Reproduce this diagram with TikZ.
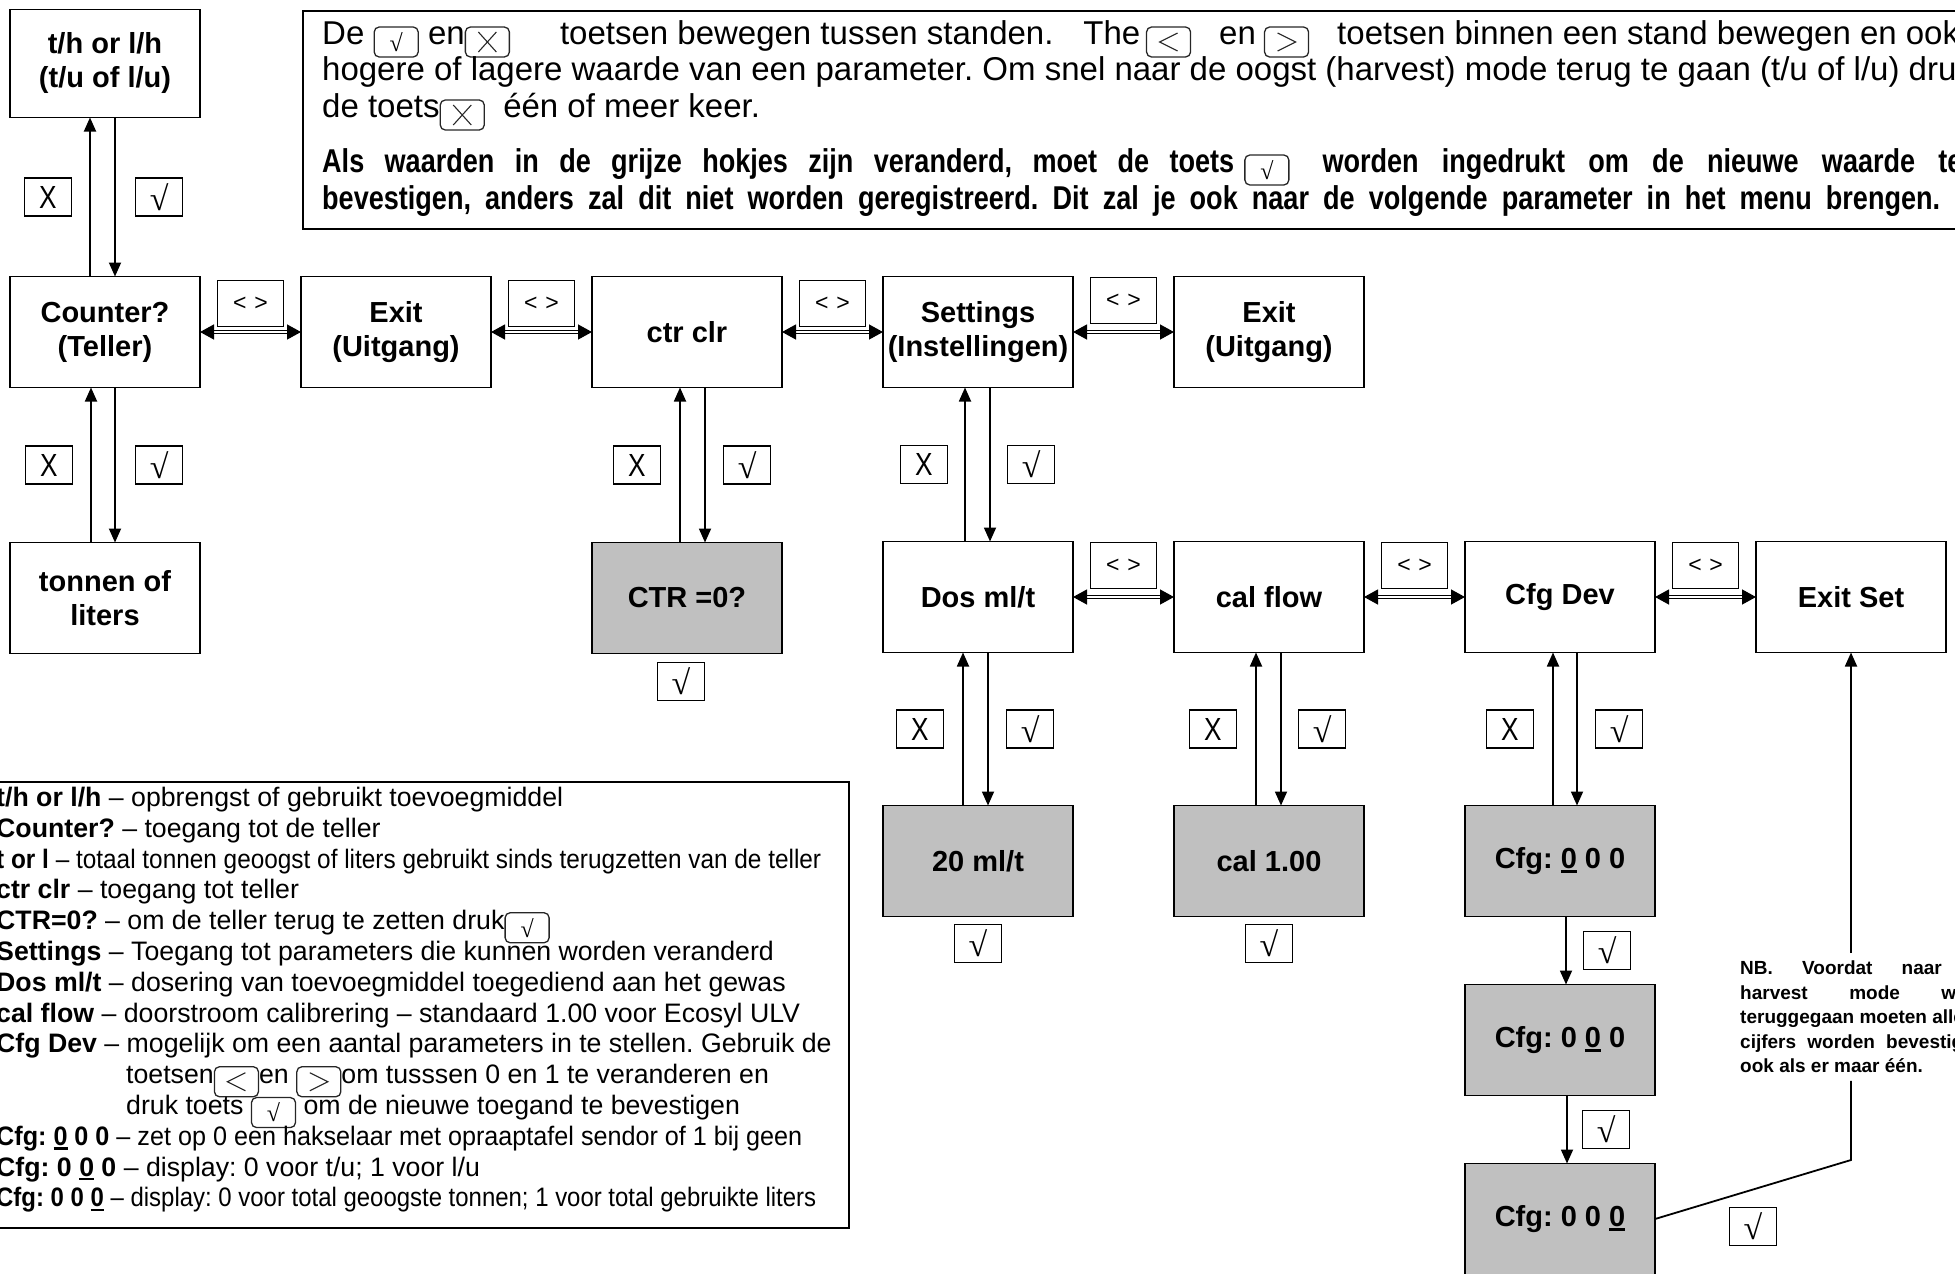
\documentclass[tikz,border=0pt]{standalone}
\usepackage{fontspec}
\usepackage{graphicx}
\setmainfont{Liberation Sans}
\newfontfamily\symfont{Liberation Serif}
\newfontfamily\narrowsans[FakeStretch=0.82]{Liberation Sans}
\usetikzlibrary{arrows.meta,positioning}
\definecolor{cellgray}{RGB}{192,192,192}
\AtBeginDocument{\frenchspacing}

\tikzset{
  keycap/.style={draw=black!85,line width=1.3pt,rounded corners=5pt,minimum width=44pt,minimum height=30pt,
    inner sep=0pt,anchor=center,align=center,font=\fontsize{24}{24}\selectfont},
  keyglyph/.style={line width=1.1pt,sharp corners}
}
% keys as they appear on the panel
\newcommand{\ok}{{\symfont √}}
\newcommand{\bigx}{{\narrowsans\fontsize{32}{32}\selectfont X}}
\newcommand{\keyok}{\tikz[baseline=-2pt]\node[keycap]{\ok};}
\newcommand{\keyx}{\tikz[baseline=-2pt]\node[keycap,path picture={
  \draw[keyglyph] ([shift={(-9pt,-10pt)}]path picture bounding box.center) -- ++(18pt,20pt)
                  ([shift={(-9pt,10pt)}]path picture bounding box.center) -- ++(18pt,-20pt);}]{};}
\newcommand{\keyl}{\tikz[baseline=-2pt]\node[keycap,path picture={
  \draw[keyglyph] ([shift={(9pt,9pt)}]path picture bounding box.center) -- ++(-18pt,-9pt) -- ++(18pt,-9pt);}]{};}
\newcommand{\keyr}{\tikz[baseline=-2pt]\node[keycap,path picture={
  \draw[keyglyph] ([shift={(-9pt,9pt)}]path picture bounding box.center) -- ++(18pt,-9pt) -- ++(-18pt,-9pt);}]{};}
\newcommand{\uldigit}[1]{\setbox0=\hbox{#1}\rlap{\rule[-0.16em]{\wd0}{0.09em}}\box0\relax}
\newcommand{\tightlines}{\lineskiplimit=-50pt\relax}

\begin{document}
\begin{tikzpicture}[x=1pt,y=-1pt,
  box/.style={draw,line width=1.8pt,outer sep=0pt,minimum width=190pt,minimum height=111pt,inner sep=0pt,
    align=center,font=\fontsize{29}{34}\selectfont\bfseries},
  valbox/.style={box,fill=cellgray},
  keylbl/.style={draw,line width=1.2pt,minimum width=47pt,minimum height=38pt,inner sep=0pt,
    font=\fontsize{34}{34}\selectfont},
  navlbl/.style={draw,line width=1.2pt,minimum width=66pt,minimum height=46pt,inner sep=0pt,
    font=\fontsize{23}{23}\selectfont},
  arr/.style={line width=1.8pt,-{Triangle[length=14pt,width=12pt]}},
  dblarr/.style={line width=1.3pt,double=white,double distance=1.2pt,
    {Triangle[length=14pt,width=15pt]}-{Triangle[length=14pt,width=15pt]}},
  toptxt/.style={inner sep=0pt,anchor=base west,font=\fontsize{33}{33}\selectfont},
  boldtxt/.style={toptxt,font=\fontsize{33}{33}\narrowsans\bfseries},
  legtxt/.style={inner sep=0pt,anchor=north west,align=left,
    font=\fontsize{26.7}{30.8}\selectfont\tightlines},
  nbtxt/.style={inner xsep=0pt,inner ysep=8pt,anchor=north west,align=left,
    font=\fontsize{19}{24.4}\selectfont\bfseries},
  node distance=155pt and 101pt]
\useasboundingbox (0,0) rectangle (1955,1274);
\clip (0,0) rectangle (1955,1274);

% top note
\node[draw,line width=1.8pt,anchor=north west,minimum width=1700pt,minimum height=218pt] (notebox) at (302,10) {};
\node[toptxt] (lineA) at (322,44) {De \keyok\ en\keyx\hspace{50pt}toetsen bewegen tussen standen.\hspace{30pt}The\,\keyl\hspace{28pt}en\hspace{8pt}\keyr\hspace{28pt}toetsen binnen een stand bewegen en ook};
\node[toptxt] (lineB) at (322,80) {hogere of lagere waarde van een parameter. Om snel naar de oogst (harvest) mode terug te gaan (t/u of l/u) druk};
\node[toptxt] (lineC) at (322,117) {de toets\keyx\ \ één of meer keer.};
\node[boldtxt] (lineD) at (322,172) {\makebox[912pt][s]{Als waarden in de grijze hokjes zijn veranderd, moet de toets}\hspace{10pt}\keyok\hspace{33pt}\makebox[640pt][s]{worden ingedrukt om de nieuwe waarde te}};
\node[boldtxt] (lineE) at (322,209) {\makebox[1618pt][s]{bevestigen, anders zal dit niet worden geregistreerd. Dit zal je ook naar de volgende parameter in het menu brengen.}};

% menu states
\node[box] (counter) at (105,332) {Counter?\\(Teller)};
\node[box,right=of counter] (exitA) {Exit\\(Uitgang)};
\node[box,right=of exitA] (ctrclr) {ctr clr};
\node[box,right=of ctrclr] (settings) {Settings\\(Instellingen)};
\node[box,right=of settings] (exitB) {Exit\\(Uitgang)};
\node[box,above=159pt of counter,minimum height=108pt] (rate) {t/h or l/h\\(t/u of l/u)};
\node[box,below=of counter] (total) {tonnen of\\liters};
\node[valbox,below=of ctrclr] (ctrzero) {CTR =0?};
\node[box,below=154pt of settings] (dose) {Dos ml/t};
\node[box,right=of dose] (calflow) {cal flow};
\node[box,right=of calflow] (cfgdev) {Cfg Dev};
\node[box,right=of cfgdev] (exitset) {Exit Set};
\node[valbox,below=153pt of dose] (doseval) {20 ml/t};
\node[valbox,below=153pt of calflow] (calval) {cal 1.00};
\node[valbox,below=153pt of cfgdev] (cfgA) {Cfg: \uldigit{0} 0 0};
\node[valbox,below=68pt of cfgA] (cfgB) {Cfg: 0 \uldigit{0} 0};
\node[valbox,below=68pt of cfgB] (cfgC) {Cfg: 0 0 \uldigit{0}};

% < > moves
\draw[dblarr] (counter) -- node[navlbl,above=5pt] (navA) {<\,\,>} (exitA);
\draw[dblarr] (exitA) -- node[navlbl,above=5pt] (navB) {<\,\,>} (ctrclr);
\draw[dblarr] (ctrclr) -- node[navlbl,above=5pt] (navC) {<\,\,>} (settings);
\draw[dblarr] (settings) -- node[navlbl,above=8pt] (navD) {<\,\,>} (exitB);
\draw[dblarr] (dose) -- node[navlbl,above=8pt] (navE) {<\,\,>} (calflow);
\draw[dblarr] (calflow) -- node[navlbl,above=8pt] (navF) {<\,\,>} (cfgdev);
\draw[dblarr] (cfgdev) -- node[navlbl,above=8pt] (navG) {<\,\,>} (exitset);

% X goes up, check goes down
\draw[arr] ([xshift=-15pt]counter.north) -- node[keylbl,left=18pt] (xA) {\bigx} ([xshift=-15pt]rate.south);
\draw[arr] ([xshift=10pt]rate.south) -- node[keylbl,right=20pt] (okA) {\ok} ([xshift=10pt]counter.north);
\draw[arr] ([xshift=-14pt]total.north) -- node[keylbl,left=18pt] (xB) {\bigx} ([xshift=-14pt]counter.south);
\draw[arr] ([xshift=10pt]counter.south) -- node[keylbl,right=20pt] (okB) {\ok} ([xshift=10pt]total.north);
\draw[arr] ([xshift=-7pt]ctrzero.north) -- node[keylbl,left=19pt] (xC) {\bigx} ([xshift=-7pt]ctrclr.south);
\draw[arr] ([xshift=18pt]ctrclr.south) -- node[keylbl,right=18pt] (okC) {\ok} ([xshift=18pt]ctrzero.north);
\draw[arr] ([xshift=-13pt]dose.north) -- node[keylbl,left=17pt] (xD) {\bigx} ([xshift=-13pt]settings.south);
\draw[arr] ([xshift=12pt]settings.south) -- node[keylbl,right=17pt] (okD) {\ok} ([xshift=12pt]dose.north);
\draw[arr] ([xshift=-15pt]doseval.north) -- node[keylbl,left=19pt] (xE) {\bigx} ([xshift=-15pt]dose.south);
\draw[arr] ([xshift=10pt]dose.south) -- node[keylbl,right=18pt] (okE) {\ok} ([xshift=10pt]doseval.north);
\draw[arr] ([xshift=-13pt]calval.north) -- node[keylbl,left=19pt] (xF) {\bigx} ([xshift=-13pt]calflow.south);
\draw[arr] ([xshift=12pt]calflow.south) -- node[keylbl,right=17pt] (okF) {\ok} ([xshift=12pt]calval.north);
\draw[arr] ([xshift=-7pt]cfgA.north) -- node[keylbl,left=19pt] (xG) {\bigx} ([xshift=-7pt]cfgdev.south);
\draw[arr] ([xshift=17pt]cfgdev.south) -- node[keylbl,right=18pt] (okG) {\ok} ([xshift=17pt]cfgA.north);
\draw[arr] ([xshift=6pt]cfgA.south) -- node[keylbl,right=17pt] (okH) {\ok} ([xshift=6pt]cfgB.north);
\draw[arr] ([xshift=7pt]cfgB.south) -- node[keylbl,right=15pt] (okI) {\ok} ([xshift=7pt]cfgC.north);
\node[keylbl,below=8pt of ctrzero,xshift=-6pt] (okzero) {\ok};
\node[keylbl,below=7pt of doseval] (okdose) {\ok};
\node[keylbl,below=7pt of calval] (okcal) {\ok};

% back to harvest mode
\node[nbtxt] (note) at (1740,953) {\makebox[253pt][s]{NB. Voordat naar de}\\
  \makebox[253pt][s]{harvest mode wordt}\\
  teruggegaan moeten alle\\
  \makebox[240pt][s]{cijfers worden bevestigd,}\\
  ook als er maar één.};
\coordinate (bend) at (1851,1160);
\draw[line width=1.8pt] (cfgC.east) -- node[keylbl,below=17pt] (okexit) {\ok} (bend) -- (bend |- note.south);
\draw[arr] (bend |- note.north) -- (exitset.south);

% legend
\node[draw,line width=1.8pt,anchor=north west,minimum width=868pt,minimum height=446pt,inner sep=0pt] (legendbox) at (-20,781) {};
\node[legtxt] (legend) at (-4,787) {\textbf{t/h or l/h} – opbrengst of gebruikt toevoegmiddel\\
  \textbf{Counter?} – toegang tot de teller\\
  \resizebox{825pt}{\height}{\textbf{t or l} – totaal tonnen geoogst of liters gebruikt sinds terugzetten van de teller}\\
  \textbf{ctr clr} – toegang tot teller\\
  \textbf{CTR=0?} – om de teller terug te zetten druk\keyok\\
  \textbf{Settings} – Toegang tot parameters die kunnen worden veranderd\\
  \textbf{Dos ml/t} – dosering van toevoegmiddel toegediend aan het gewas\\
  \textbf{cal flow} – doorstroom calibrering – standaard 1.00 voor Ecosyl ULV\\
  \textbf{Cfg Dev} – mogelijk om een aantal parameters in te stellen. Gebruik de\\
  \hspace*{130pt}toetsen\keyl en \keyr om tusssen 0 en 1 te veranderen en\\
  \hspace*{130pt}druk toets \keyok\ om de nieuwe toegand te bevestigen\\
  \resizebox{806pt}{\height}{\textbf{Cfg: \uldigit{0} 0 0} – zet op 0 een hakselaar met opraaptafel sendor of 1 bij geen}\\
  \textbf{Cfg: 0 \uldigit{0} 0} – display: 0 voor t/u; 1 voor l/u\\
  \resizebox{820pt}{\height}{\textbf{Cfg: 0 0 \uldigit{0}} – display: 0 voor total geoogste tonnen; 1 voor total gebruikte liters}};
\end{tikzpicture}
\end{document}
